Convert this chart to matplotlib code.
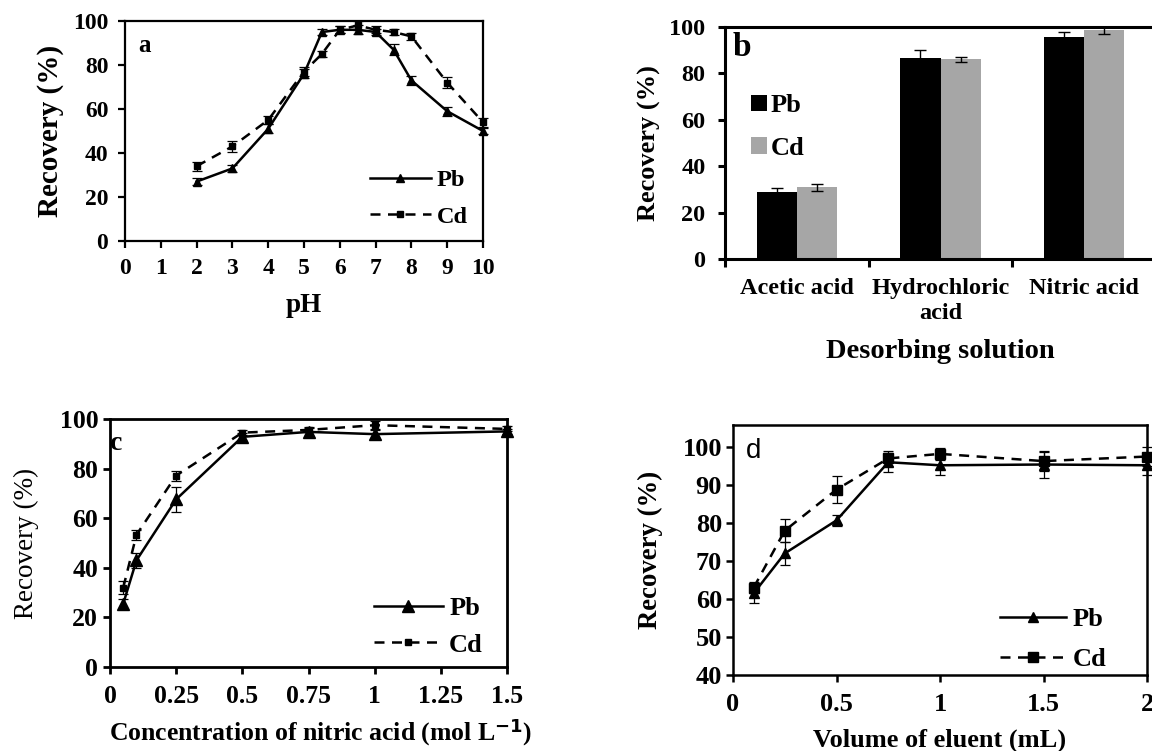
import matplotlib
matplotlib.use('Agg')
import matplotlib.pyplot as plt
from matplotlib.lines import Line2D
import numpy as np

# a: effect of pH
ph = [2, 3, 4, 5, 5.5, 6, 6.5, 7, 7.5, 8, 9, 10]
ph_pb = [27, 33, 51, 76, 95, 96, 96, 95, 87, 73, 59, 50]
ph_pb_err = [1.5, 1.5, 2, 2, 1.5, 1.5, 2, 1.5, 2.5, 2, 2, 1.5]
ph_cd = [34, 43, 55, 77, 85, 96, 98, 96, 95, 93, 72, 54]
ph_cd_err = [2, 2.5, 2, 2, 1.5, 1.5, 2, 1.5, 1.5, 1.5, 2.5, 2]

# b: desorbing solution
eluents = ['Acetic acid', 'Hydrochloric\nacid', 'Nitric acid']
des_pb = [28.7, 86.5, 95.9]
des_pb_err = [1.7, 3.5, 1.8]
des_cd = [30.9, 86.1, 98.7]
des_cd_err = [1.4, 1.1, 1.9]

# c: concentration of nitric acid
conc = [0.05, 0.1, 0.25, 0.5, 0.75, 1.0, 1.5]
conc_pb = [25.5, 43, 67.6, 92.8, 94.8, 93.9, 95]
conc_pb_err = [2, 3, 5, 1.5, 1.5, 1.5, 1]
conc_cd = [32, 53.3, 77.2, 94.5, 95.6, 97.5, 96]
conc_cd_err = [2.5, 2, 2, 1, 1, 1.5, 1]

# d: volume of eluent
vol = [0.1, 0.25, 0.5, 0.75, 1.0, 1.5, 2.0]
vol_pb = [61.5, 72, 80.7, 96, 95.2, 95.4, 95.2]
vol_pb_err = [2.5, 3, 1.5, 2.5, 2.5, 3.5, 2.5]
vol_cd = [63, 78, 88.8, 97, 98.2, 96.3, 97.5]
vol_cd_err = [1.5, 3, 3.5, 2, 1.5, 2.5, 2.5]

plt.rcParams['font.family'] = ['Liberation Serif', 'DejaVu Serif']
plt.rcParams['font.weight'] = 'bold'
plt.rcParams['axes.labelweight'] = 'bold'
plt.rcParams['mathtext.default'] = 'regular'

W, H = 1152, 751
fig = plt.figure(figsize=(W / 100, H / 100), dpi=100)
DASH = (0, (4, 3))


def px_axes(l, t, r, b):
    return fig.add_axes([l / W, 1 - b / H, (r - l) / W, (b - t) / H])


def style_axes(ax, lw, tsize, xpad, ypad):
    for s in ax.spines.values():
        s.set_linewidth(lw)
    ax.tick_params(direction='out', length=5, width=lw, labelsize=tsize)
    ax.tick_params(axis='x', top=False, pad=xpad)
    ax.tick_params(axis='y', right=False, pad=ypad)


def line_panel(ax, x, pb, pb_err, cd, cd_err, ms_pb, ms_cd):
    ax.errorbar(x, pb, yerr=pb_err, color='black', lw=1.8, marker='^', ms=ms_pb,
                ecolor='black', elinewidth=0.9, capsize=3.5, capthick=0.9, clip_on=False)
    ax.errorbar(x, cd, yerr=cd_err, color='black', lw=1.8, ls=DASH, marker='s', ms=ms_cd,
                ecolor='black', elinewidth=0.9, capsize=3.5, capthick=0.9, clip_on=False)


def line_legend(ax, anchor, fsize, ms_pb, ms_cd, hlen, spacing):
    handles = [Line2D([], [], color='black', lw=1.8, marker='^', ms=ms_pb),
               Line2D([], [], color='black', lw=1.8, ls=DASH, marker='s', ms=ms_cd)]
    ax.legend(handles, ['Pb', 'Cd'], loc='upper left', bbox_to_anchor=anchor, frameon=False,
              fontsize=fsize, borderpad=0, borderaxespad=0, handlelength=hlen,
              handletextpad=0.25, labelspacing=spacing)


# panel a
ax = px_axes(125, 21, 483, 241)
line_panel(ax, ph, ph_pb, ph_pb_err, ph_cd, ph_cd_err, 6, 5)
ax.set_xlim(0, 10)
ax.set_ylim(0, 100)
ax.set_xticks(range(0, 11))
ax.set_yticks(range(0, 101, 20))
style_axes(ax, 1.6, 17, 7, 7)
ax.set_xlabel('pH', fontsize=19.5)
ax.set_ylabel('Recovery (%)', fontsize=21)
ax.xaxis.set_label_coords(0.5, -0.235)
ax.yaxis.set_label_coords(-0.17, 0.5)
line_legend(ax, (0.684, 0.327), 17.5, 6, 5, 2.5, 0.6)
fig.text(138 / W, 1 - 46 / H, 'a', fontsize=18, va='center', ha='left')

# panel b
ax = px_axes(725, 27, 1156, 259)
pos = np.arange(len(eluents))
bw = 0.28
ax.bar(pos - bw / 2, des_pb, bw, color='black', label='Pb',
       yerr=des_pb_err, error_kw=dict(ecolor='black', elinewidth=1, capsize=4, capthick=1))
ax.bar(pos + bw / 2, des_cd, bw, color='#a6a6a6', label='Cd',
       yerr=des_cd_err, error_kw=dict(ecolor='black', elinewidth=1, capsize=4, capthick=1))
ax.set_xlim(-0.5, 2.5)
ax.set_ylim(0, 100)
ax.set_yticks(range(0, 101, 20))
ax.set_xticks(pos)
ax.set_xticklabels(eluents, fontsize=16.5)
ax.set_xticks([-0.5, 0.5, 1.5, 2.5], minor=True)
style_axes(ax, 2.2, 17.5, 14, 9)
ax.tick_params(axis='x', which='major', length=0)
ax.tick_params(axis='x', which='minor', direction='out', length=6, width=2.2)
ax.set_xlabel('Desorbing solution', fontsize=20.5)
ax.set_ylabel('Recovery (%)', fontsize=19)
ax.xaxis.set_label_coords(0.5, -0.345)
ax.yaxis.set_label_coords(-0.149, 0.5)
ax.legend(loc='upper left', bbox_to_anchor=(0.06, 0.71), frameon=False, fontsize=19,
          borderpad=0, borderaxespad=0, handlelength=0.6, handleheight=0.6, handletextpad=0.15,
          labelspacing=0.75)
fig.text(733 / W, 1 - 47 / H, 'b', fontsize=24, va='center', ha='left')

# panel c
ax = px_axes(110, 419, 507, 667)
line_panel(ax, conc, conc_pb, conc_pb_err, conc_cd, conc_cd_err, 9, 5)
ax.set_xlim(0, 1.5)
ax.set_ylim(0, 100)
ax.set_xticks([0, 0.25, 0.5, 0.75, 1, 1.25, 1.5])
ax.set_xticklabels(['0', '0.25', '0.5', '0.75', '1', '1.25', '1.5'])
ax.set_yticks(range(0, 101, 20))
style_axes(ax, 2.0, 18.5, 8, 3.5)
ax.set_xlabel('Concentration of nitric acid (mol L$^{\\mathbf{-1}}$)', fontsize=18.5)
ax.set_ylabel('Recovery (%)', fontsize=19.5, fontweight='normal')
ax.xaxis.set_label_coords(0.53, -0.2)
ax.yaxis.set_label_coords(-0.18, 0.5)
line_legend(ax, (0.665, 0.284), 19, 9, 5, 2.6, 0.5)
fig.text(110 / W, 1 - 443 / H, 'c', fontsize=20, va='center', ha='left')

# panel d
ax = px_axes(733, 425, 1147, 675)
line_panel(ax, vol, vol_pb, vol_pb_err, vol_cd, vol_cd_err, 7, 7)
ax.set_xlim(0, 2)
ax.set_ylim(40, 105.8)
ax.set_xticks([0, 0.5, 1, 1.5, 2])
ax.set_xticklabels(['0', '0.5', '1', '1.5', '2'])
ax.set_yticks(range(40, 101, 10))
style_axes(ax, 1.8, 19, 8, 3)
ax.set_xlabel('Volume of eluent (mL)', fontsize=19)
ax.set_ylabel('Recovery (%)', fontsize=19.3)
ax.xaxis.set_label_coords(0.5, -0.213)
ax.yaxis.set_label_coords(-0.169, 0.5)
line_legend(ax, (0.645, 0.27), 19, 7, 7, 2.5, 0.63)
fig.text(746 / W, 1 - 451 / H, 'd', fontsize=20, va='center', ha='left',
         family='Liberation Sans', fontweight='normal')

fig.savefig('out.png', dpi=100)
